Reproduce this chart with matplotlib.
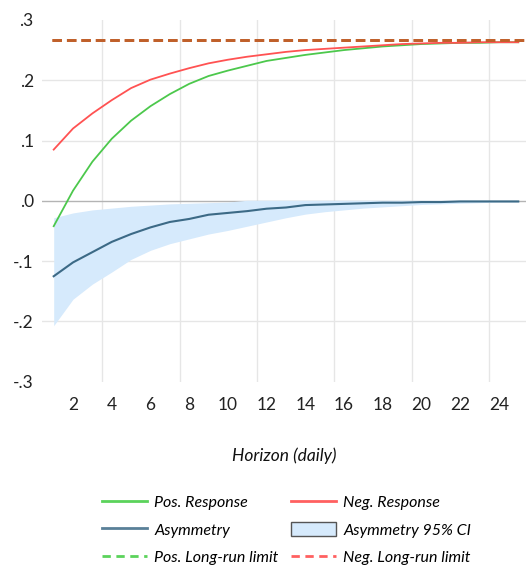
import numpy as np
import matplotlib
matplotlib.use("Agg")
import matplotlib.pyplot as plt
from matplotlib.patches import Patch
from matplotlib.lines import Line2D

plt.rcParams['font.family'] = ['Lato', 'DejaVu Sans']

horizon = list(range(1, 26))
pos_resp = [-0.042, 0.017, 0.065, 0.103, 0.133, 0.157, 0.177, 0.194, 0.207, 0.216,
            0.224, 0.232, 0.237, 0.242, 0.246, 0.250, 0.253, 0.256, 0.258, 0.260,
            0.261, 0.262, 0.262, 0.263, 0.263]
neg_resp = [0.085, 0.120, 0.145, 0.167, 0.187, 0.201, 0.211, 0.220, 0.228, 0.234,
            0.239, 0.243, 0.247, 0.250, 0.252, 0.254, 0.256, 0.258, 0.260, 0.261,
            0.262, 0.262, 0.263, 0.263, 0.263]
asym = [-0.125, -0.102, -0.085, -0.068, -0.055, -0.044, -0.035, -0.030, -0.023, -0.020,
        -0.017, -0.013, -0.011, -0.007, -0.006, -0.005, -0.004, -0.003, -0.003, -0.002,
        -0.002, -0.001, -0.001, -0.001, -0.001]
ci_upper = [-0.028, -0.020, -0.015, -0.012, -0.009, -0.007, -0.005, -0.004, -0.003, -0.002,
            0.001, 0.001, 0.001, 0.001, 0.001, 0.001, 0.001, 0.001, 0.001, 0.001,
            0.001, 0.001, 0.001, 0.001, 0.001]
ci_lower = [-0.207, -0.163, -0.138, -0.118, -0.097, -0.082, -0.071, -0.063, -0.055, -0.049,
            -0.042, -0.035, -0.028, -0.022, -0.018, -0.015, -0.012, -0.010, -0.008, -0.006,
            -0.005, -0.004, -0.003, -0.002, -0.002]
pos_limit = 0.266
neg_limit = 0.266

yticks = [-0.3, -0.2, -0.1, 0.0, 0.1, 0.2, 0.3]
ytick_labels = ['-.3', '-.2', '-.1', '.0', '.1', '.2', '.3']
xticks = list(range(2, 26, 2))
vgrid = [3.5, 7.5, 11.5, 15.5, 19.5, 23.5]

GREEN = '#4CC84C'
RED = '#FF5252'
ASYM = '#3C6A86'
BAND = '#D6EAFC'
BROWN = '#C0602A'

fig = plt.figure(figsize=(5.26, 5.69), dpi=100)
ax = fig.add_axes([0.08, 0.329, 0.92, 0.636])

for g in [-0.2, -0.1, 0.1, 0.2]:
    ax.axhline(g, color='#E6E6E6', lw=1.0, zorder=0)
for v in vgrid:
    ax.axvline(v, color='#E6E6E6', lw=1.0, zorder=0)
ax.axhline(0.0, color='#B4B4B4', lw=1.0, zorder=0.5)

ax.fill_between(horizon, ci_lower, ci_upper, color=BAND, lw=0, zorder=1)
ax.plot(horizon, pos_resp, color=GREEN, lw=1.3, zorder=3)
ax.plot(horizon, neg_resp, color=RED, lw=1.3, zorder=3)
ax.plot(horizon, asym, color=ASYM, lw=1.5, zorder=3)
ax.plot([0.9, 25.4], [pos_limit, pos_limit], color=BROWN, lw=2.0, ls=(0, (3.4, 1.8)), zorder=4)
ax.plot([0.9, 25.4], [neg_limit, neg_limit], color=BROWN, lw=2.0, ls=(0, (3.4, 1.8)), zorder=4)

ax.set_xlim(0.4, 25.4)
ax.set_ylim(-0.3, 0.3)
ax.set_yticks(yticks)
ax.set_yticklabels(ytick_labels)
ax.set_xticks(xticks)
ax.set_xticklabels([str(t) for t in xticks])
ax.tick_params(axis='both', length=0, labelsize=12.5, colors='#222222')
ax.tick_params(axis='x', pad=11)
ax.tick_params(axis='y', pad=6)
for s in ax.spines.values():
    s.set_visible(False)

ax.set_xlabel('Horizon (daily)', style='italic', fontsize=12.5, labelpad=25, color='#111111')

handles = [
    Line2D([], [], color='#5BD35B', lw=2),
    Line2D([], [], color=ASYM, lw=2, alpha=0.85),
    Line2D([], [], color='#5BD35B', lw=2, ls=(0, (3, 2))),
    Line2D([], [], color='#FF6060', lw=2),
    Patch(facecolor=BAND, edgecolor='#555555', lw=1),
    Line2D([], [], color='#FF6060', lw=2, ls=(0, (3, 2))),
]
labels = ['Pos. Response', 'Asymmetry', 'Pos. Long-run limit',
          'Neg. Response', 'Asymmetry 95% CI', 'Neg. Long-run limit']
leg = fig.legend(handles, labels, ncol=2, loc='center', bbox_to_anchor=(0.545, 0.069),
                 frameon=False, prop={'style': 'italic', 'size': 11.5},
                 handlelength=2.8, columnspacing=0.8, labelspacing=0.75, handletextpad=0.45,
                 handleheight=1.0)

fig.savefig('out.png', dpi=100)
